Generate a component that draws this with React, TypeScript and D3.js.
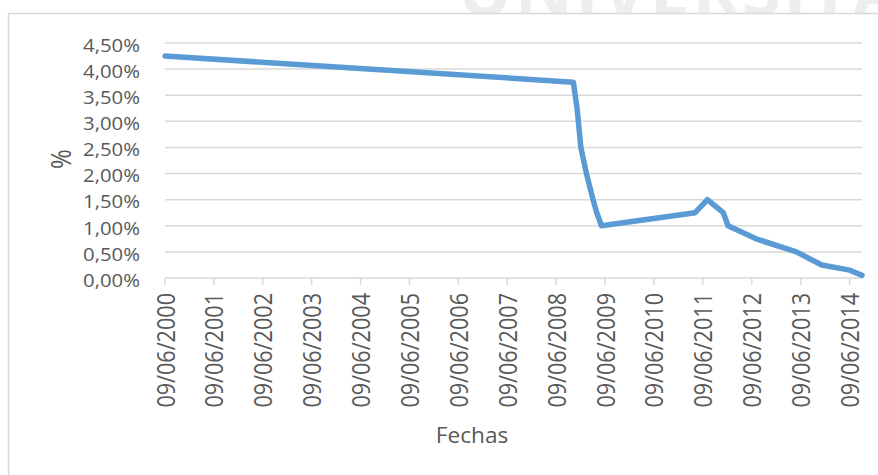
import React from "react";
import * as d3 from "d3";

const dates = [
  "2000-06-09", "2008-10-15", "2008-11-12", "2008-12-10", "2009-01-21",
  "2009-03-11", "2009-04-08", "2009-05-13", "2011-04-13", "2011-07-13",
  "2011-11-09", "2011-12-14", "2012-07-11", "2013-05-08", "2013-11-13",
  "2014-06-11", "2014-09-10",
];
const rates = [
  4.25, 3.75, 3.25, 2.5, 2.0, 1.5, 1.25, 1.0, 1.25, 1.5, 1.25, 1.0, 0.75, 0.5,
  0.25, 0.15, 0.05,
];
const yTicks = [0, 0.5, 1, 1.5, 2, 2.5, 3, 3.5, 4, 4.5];
const xTickLabels = [
  "09/06/2000", "09/06/2001", "09/06/2002", "09/06/2003", "09/06/2004",
  "09/06/2005", "09/06/2006", "09/06/2007", "09/06/2008", "09/06/2009",
  "09/06/2010", "09/06/2011", "09/06/2012", "09/06/2013", "09/06/2014",
];
const yTitle = "%";
const xTitle = "Fechas";
const watermark = "UNIVERSITAS";

const parse = d3.timeParse("%Y-%m-%d");
const parseTick = d3.timeParse("%d/%m/%Y");

export default function App() {
  const W = 878;
  const H = 475;
  const left = 165;
  const right = 862;
  const top = 43;
  const bottom = 278;
  const font = "'Open Sans', 'Noto Sans', sans-serif";
  const textColor = "#595959";
  const grid = "#d9d9d9";

  const pts = dates.map((d, i) => ({ date: parse(d) as Date, v: rates[i] }));
  const x = d3
    .scaleTime()
    .domain([pts[0].date, pts[pts.length - 1].date])
    .range([left, right]);
  const y = d3.scaleLinear().domain([0, 4.5]).range([bottom, top]);

  const line = d3
    .line<{ date: Date; v: number }>()
    .x((d) => x(d.date))
    .y((d) => y(d.v));

  const fmt = (v: number) => v.toFixed(2).replace(".", ",") + "%";

  return (
    <svg
      width={W}
      height={H}
      style={{ position: "absolute", left: 0, top: 0, background: "#fff" }}
    >
      <text
        x={458}
        y={16}
        fontFamily={font}
        fontWeight={700}
        fontSize={72}
        letterSpacing={2}
        fill="#eeeeee"
      >
        {watermark}
      </text>
      <rect
        x={8.5}
        y={13.5}
        width={W}
        height={H}
        fill="#fff"
        stroke={grid}
        strokeWidth={1.5}
      />
      {yTicks.map((t) => (
        <line
          key={"g" + t}
          x1={left}
          x2={right}
          y1={y(t)}
          y2={y(t)}
          stroke={grid}
          strokeWidth={1.5}
        />
      ))}
      {xTickLabels.map((lbl) => {
        const tx = x(parseTick(lbl) as Date);
        return (
          <g key={lbl}>
            <line
              x1={tx}
              x2={tx}
              y1={bottom}
              y2={bottom + 7}
              stroke={grid}
              strokeWidth={1.5}
            />
            <text
              transform={`translate(${tx + 9.5},${bottom + 15}) scale(1.17,1) rotate(-90)`}
              textAnchor="end"
              fontFamily={font}
              fontSize={21.6}
              fill={textColor}
            >
              {lbl}
            </text>
          </g>
        );
      })}
      {yTicks.map((t) => (
        <text
          key={"l" + t}
          transform={`translate(140,${y(t) + 8.8}) scale(1.07,1)`}
          textAnchor="end"
          fontFamily={font}
          fontSize={19}
          fill={textColor}
        >
          {fmt(t)}
        </text>
      ))}
      <path
        d={line(pts) || ""}
        fill="none"
        stroke="#5b9bd5"
        strokeWidth={5.5}
        strokeLinejoin="round"
        strokeLinecap="round"
      />
      <text
        transform={`translate(71,159) scale(1.12,1) rotate(-90)`}
        textAnchor="middle"
        fontFamily={font}
        fontSize={24}
        fill={textColor}
      >
        {yTitle}
      </text>
      <text
        transform={`translate(472,443) scale(1.03,1)`}
        textAnchor="middle"
        fontFamily={font}
        fontSize={22}
        fill={textColor}
      >
        {xTitle}
      </text>
    </svg>
  );
}
